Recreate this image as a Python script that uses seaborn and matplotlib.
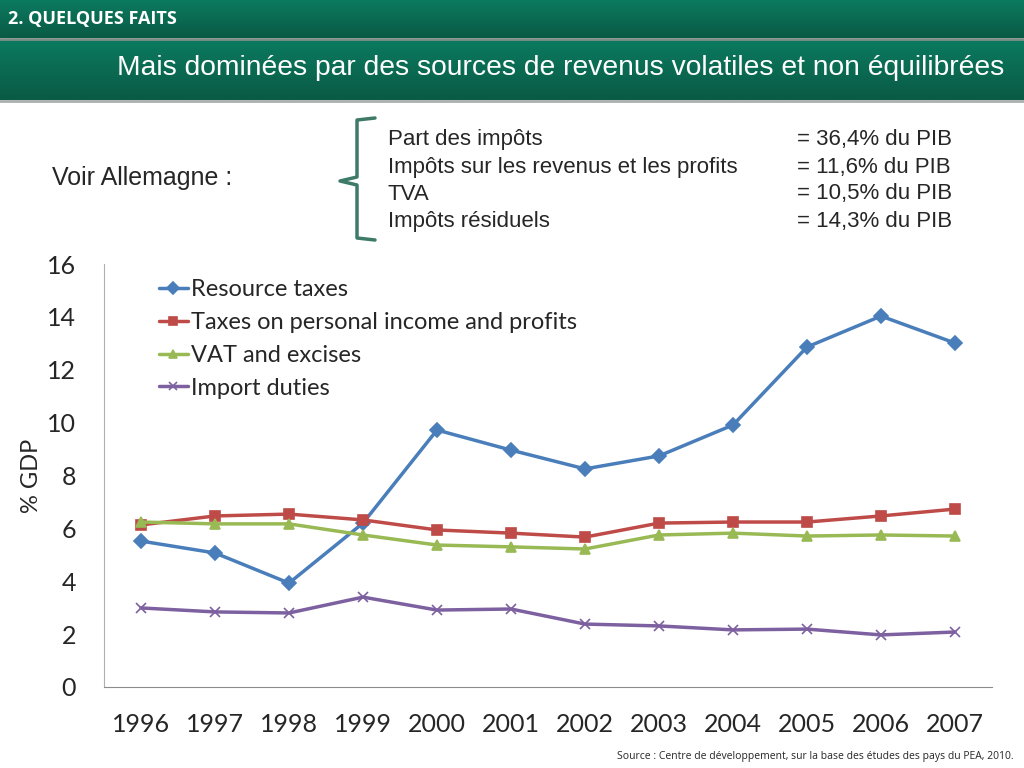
import numpy as np
import pandas as pd
import matplotlib
matplotlib.use('Agg')
import matplotlib.pyplot as plt
import seaborn as sns

years = ['1996', '1997', '1998', '1999', '2000', '2001', '2002', '2003', '2004', '2005', '2006', '2007']
resource_taxes = [5.52, 5.07, 3.93, 6.2, 9.72, 8.96, 8.25, 8.74, 9.91, 12.86, 14.03, 13.01]
personal_income = [6.13, 6.47, 6.54, 6.32, 5.94, 5.82, 5.67, 6.2, 6.24, 6.24, 6.47, 6.73]
vat_excises = [6.24, 6.17, 6.17, 5.75, 5.37, 5.3, 5.22, 5.75, 5.82, 5.71, 5.75, 5.71]
import_duties = [2.99, 2.84, 2.8, 3.4, 2.91, 2.95, 2.38, 2.31, 2.16, 2.19, 1.97, 2.08]

series_names = ['Resource taxes', 'Taxes on personal income and profits', 'VAT and excises', 'Import duties']
series_colors = ['#4a7ebb', '#be4b48', '#98b954', '#7d60a0']
series_markers = ['D', 's', '^', 'x']

facts_labels = ['Part des impôts', 'Impôts sur les revenus et les profits', 'TVA', 'Impôts résiduels']
facts_values = ['= 36,4% du PIB', '= 11,6% du PIB', '= 10,5% du PIB', '= 14,3% du PIB']

df = pd.DataFrame({
    'year': years * 4,
    'value': resource_taxes + personal_income + vat_excises + import_duties,
    'series': [n for n in series_names for _ in years],
})
df['pos'] = df['year'].map({y: i for i, y in enumerate(years)})

sns.set_style('white')
plt.rcParams['font.family'] = ['Lato', 'DejaVu Sans']
arial = ['Liberation Sans', 'DejaVu Sans']

fig = plt.figure(figsize=(10.24, 7.68), dpi=100)

# header bands with a gradient
hdr = fig.add_axes([0, 0, 1, 1], zorder=0)
hdr.set_xlim(0, 1024)
hdr.set_ylim(768, 0)
hdr.axis('off')
grad = np.linspace(0, 1, 50).reshape(-1, 1)
cmap = matplotlib.colors.LinearSegmentedColormap.from_list('g', ['#0b7a5f', '#0a5a45'])
hdr.imshow(grad, cmap=cmap, extent=[0, 1024, 38, 0], aspect='auto')
hdr.imshow(grad, cmap=cmap, extent=[0, 1024, 100, 40], aspect='auto')
hdr.axhline(39, color='#7f8f88', lw=2)
hdr.axhline(101, color='#a8b0ad', lw=2)
hdr.text(8, 19, '2. QUELQUES FAITS', color='white', fontsize=13, fontweight='bold',
         va='center', ha='left', family=['Open Sans', 'DejaVu Sans'])
hdr.text(1004, 68, 'Mais dominées par des sources de revenus volatiles et non équilibrées',
         color='white', fontsize=20.3, va='center', ha='right', family=arial)

# curly brace
bx = [375, 357, 357, 340, 357, 357, 375]
by = [118, 120, 177, 181, 185, 238, 240]
hdr.plot(bx, by, color='#3d7a68', lw=2.5, solid_joinstyle='round')

hdr.text(52, 178, 'Voir Allemagne :', fontsize=18, va='center', ha='left', family=arial)
for i, (lab, val) in enumerate(zip(facts_labels, facts_values)):
    yy = 140 + i * 27
    hdr.text(388, yy, lab, fontsize=16, va='center', ha='left', family=arial)
    hdr.text(797, yy, val, fontsize=16, va='center', ha='left', family=arial)

hdr.text(1014, 756, 'Source : Centre de développement, sur la base des études des pays du PEA, 2010.',
         fontsize=7.5, va='center', ha='right', family=['Open Sans', 'DejaVu Sans'])

ax = fig.add_axes([104 / 1024, 1 - 687 / 768, 888 / 1024, 423 / 768], zorder=1)
ax.patch.set_alpha(0)
for name, c, m in zip(series_names, series_colors, series_markers):
    sub = df[df['series'] == name]
    sns.lineplot(data=sub, x='pos', y='value', color=c, marker=m, label=name,
                 linewidth=2.5, markersize=7.5, markeredgewidth=1.2, markeredgecolor=c, ax=ax)

ax.set_xlim(-0.5, len(years) - 0.5)
ax.set_ylim(0, 16)
ax.set_xticks(range(len(years)))
ax.set_xticklabels(years)
ax.set_yticks(range(0, 17, 2))
ax.tick_params(axis='both', length=0, labelsize=18)
ax.tick_params(axis='x', pad=19)
ax.tick_params(axis='y', pad=20)
ax.set_xlabel('')
ax.set_ylabel('% GDP', fontsize=17, labelpad=4)
for s in ['top', 'right']:
    ax.spines[s].set_visible(False)
ax.spines['left'].set_color('#b0b0b0')
ax.spines['bottom'].set_color('#8c8c8c')

leg = ax.legend(loc='upper left', bbox_to_anchor=(0.0375, 1.014), frameon=False, fontsize=17,
                handlelength=1.25, handletextpad=0.12, labelspacing=0.5)
for h in leg.legend_handles:
    h.set_markersize(6)

fig.savefig('out.png', dpi=100)
